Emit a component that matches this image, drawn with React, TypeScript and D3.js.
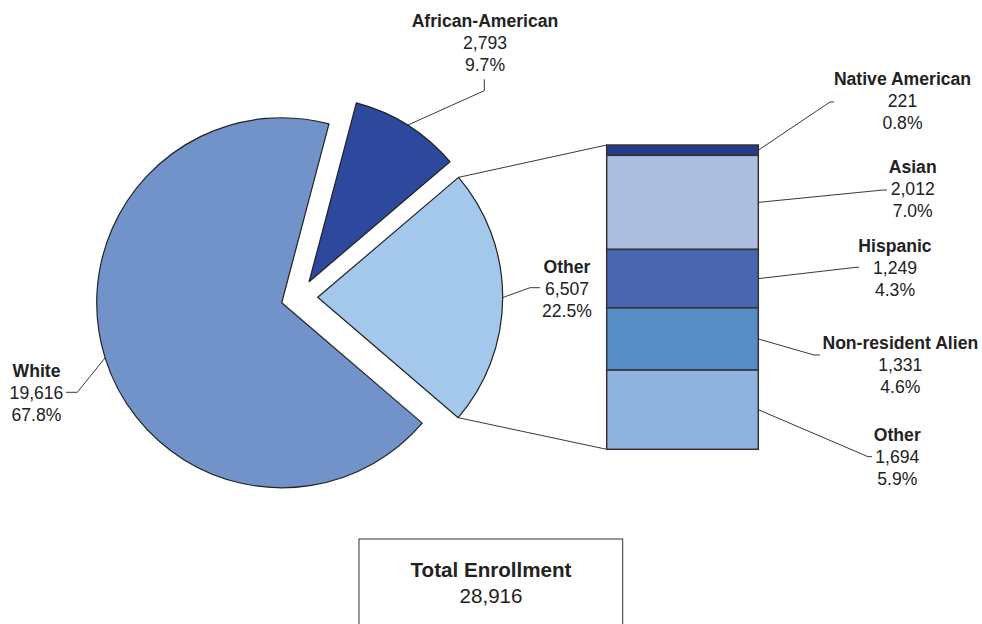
import * as d3 from "d3";

// pie slices (clockwise from the top-right cut)
const pieLabels = ["African-American", "Other", "White"];
const pieValues = [2793, 6507, 19616];

// breakdown of "Other", top to bottom in the bar
const barLabels = ["Native American", "Asian", "Hispanic", "Non-resident Alien", "Other"];
const barValues = [221, 2012, 1249, 1331, 1694];

const totalLabel = "Total Enrollment";

const PIE_COLORS = ["#2d489c", "#a3c8eb", "#7193c9"];
const BAR_COLORS = ["#263b8c", "#adbde0", "#4a66ae", "#578cc7", "#8fb3de"];
const INK = "#222";
const FONT = "'Liberation Sans', Arial, sans-serif";
const FS = 17.6;

const W = 982;
const H = 624;
const cx = 299.3;
const cy = 297.3;
const R = 185;
const EXPLODE = 18.4;
const startDeg = 14.8;

const bar = { x0: 606.7, x1: 758.3, y0: 145, y1: 449.3 };

// label positions (centre x, first baseline) and leader polylines, per slice
const pieLabelPos = [
  { x: 485, y: 26.7, leader: [[484.3, 90.7], [484.3, 79.3]] },
  { x: 567, y: 273.3, leader: [[530, 287.7], [540, 287.7]] },
  { x: 36.5, y: 377.3, leader: [[77.3, 392.3], [66, 392.3]] },
];
const barLabelPos = [
  { x: 902.5, y: 85, leader: [[830, 102], [834, 102]] },
  { x: 912.7, y: 173.3, leader: [[883, 190], [887, 190]] },
  { x: 895, y: 252.3, leader: [[856, 267.3], [859, 267.3]] },
  { x: 900.3, y: 349.3, leader: [[814, 355], [820, 355]] },
  { x: 897.3, y: 441, leader: [[868, 456.7], [872, 456.7]] },
];

const fmtN = d3.format(",");
const fmtP = d3.format(".1%");

function Label({ x, y, lines }: { x: number; y: number; lines: string[] }) {
  return (
    <text x={x} y={y} textAnchor="middle" fontFamily={FONT} fontSize={FS} fill={INK}>
      {lines.map((t, i) => (
        <tspan key={i} x={x} dy={i === 0 ? 0 : 22} fontWeight={i === 0 ? "bold" : "normal"}>
          {t}
        </tspan>
      ))}
    </text>
  );
}

export default function App() {
  const total = d3.sum(pieValues);
  const start = (startDeg * Math.PI) / 180;
  const pie = d3
    .pie<number>()
    .sort(null)
    .startAngle(start)
    .endAngle(start + 2 * Math.PI);
  const arcs = pie(pieValues);
  const arc = d3.arc<d3.PieArcDatum<number>>().innerRadius(0).outerRadius(R);

  const offset = (d: d3.PieArcDatum<number>) => {
    const m = (d.startAngle + d.endAngle) / 2;
    return [EXPLODE * Math.sin(m), -EXPLODE * Math.cos(m)];
  };
  const onArc = (d: d3.PieArcDatum<number>, a: number) => {
    const [ox, oy] = offset(d);
    return [cx + ox + R * Math.sin(a), cy + oy - R * Math.cos(a)];
  };

  const otherIdx = 1;
  const otherArc = arcs[otherIdx];
  const pTop = onArc(otherArc, otherArc.startAngle);
  const pBot = onArc(otherArc, otherArc.endAngle);

  const y = d3.scaleLinear().domain([0, d3.sum(barValues)]).range([bar.y0, bar.y1]);
  const cum = [0, ...d3.cumsum(barValues)];

  const line = d3.line();

  return (
    <svg
      width={W}
      height={H}
      style={{ position: "absolute", left: 0, top: 0, background: "#fff" }}
    >
      {/* series lines from the Other slice to the bar */}
      <line x1={pTop[0]} y1={pTop[1]} x2={bar.x0} y2={bar.y0} stroke={INK} strokeWidth={0.9} />
      <line x1={pBot[0]} y1={pBot[1]} x2={bar.x0} y2={bar.y1} stroke={INK} strokeWidth={0.9} />

      {arcs.map((d, i) => {
        const [ox, oy] = offset(d);
        return (
          <path
            key={pieLabels[i]}
            d={arc(d) || ""}
            transform={`translate(${cx + ox},${cy + oy})`}
            fill={PIE_COLORS[i]}
            stroke={INK}
            strokeWidth={1.2}
            strokeLinejoin="round"
          />
        );
      })}

      {barValues.map((v, i) => (
        <rect
          key={barLabels[i]}
          x={bar.x0}
          y={y(cum[i])}
          width={bar.x1 - bar.x0}
          height={y(cum[i + 1]) - y(cum[i])}
          fill={BAR_COLORS[i]}
          stroke="#333"
          strokeWidth={1.5}
        />
      ))}

      {/* pie labels */}
      {arcs.map((d, i) => {
        const m = (d.startAngle + d.endAngle) / 2;
        const p0 = onArc(d, m);
        const pos = pieLabelPos[i];
        return (
          <g key={"pl" + i}>
            <path
              d={line([p0 as [number, number], ...(pos.leader as [number, number][])]) || ""}
              fill="none"
              stroke={INK}
              strokeWidth={0.9}
            />
            <Label x={pos.x} y={pos.y} lines={[pieLabels[i], fmtN(d.data), fmtP(d.data / total)]} />
          </g>
        );
      })}

      {/* bar labels */}
      {barValues.map((v, i) => {
        const pos = barLabelPos[i];
        const p0: [number, number] = [bar.x1, y((cum[i] + cum[i + 1]) / 2)];
        return (
          <g key={"bl" + i}>
            <path
              d={line([p0, ...(pos.leader as [number, number][])]) || ""}
              fill="none"
              stroke={INK}
              strokeWidth={0.9}
            />
            <Label x={pos.x} y={pos.y} lines={[barLabels[i], fmtN(v), fmtP(v / total)]} />
          </g>
        );
      })}

      {/* total box */}
      <rect x={359} y={539} width={263.7} height={120} fill="none" stroke="#333" strokeWidth={1} />
      <text x={491} y={576.7} textAnchor="middle" fontFamily={FONT} fontSize={20.6} fill={INK}>
        <tspan x={491} fontWeight="bold">
          {totalLabel}
        </tspan>
        <tspan x={491} dy={26.6}>
          {fmtN(total)}
        </tspan>
      </text>
    </svg>
  );
}
